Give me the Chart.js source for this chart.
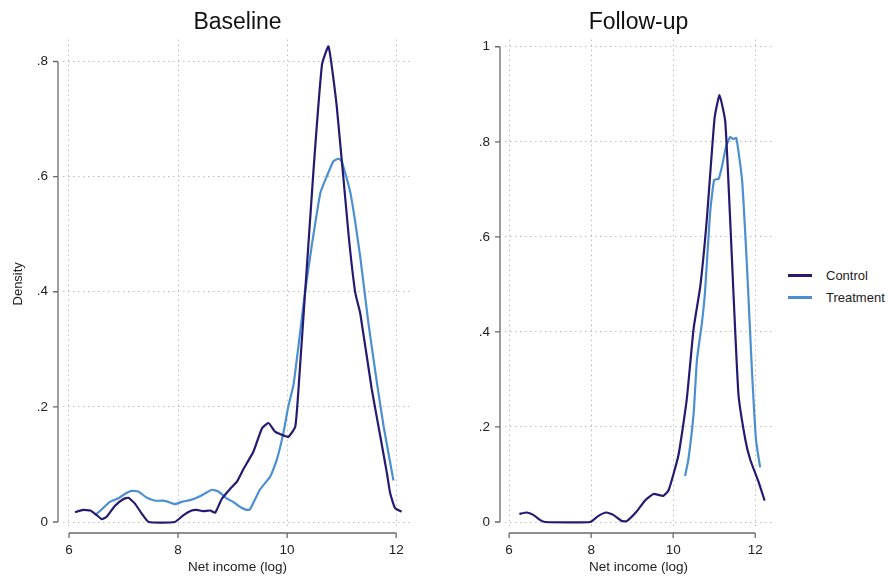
<!DOCTYPE html>
<html>
<head>
<meta charset="utf-8">
<script src="https://cdn.jsdelivr.net/npm/chart.js@4"></script>
<style>
  body { margin: 0; background: #fff; font-family: "Liberation Sans", Arial, sans-serif; }
  #wrap { position: relative; width: 888px; height: 577px; }
  canvas { position: absolute; top: 0; }
  #legend { position: absolute; left: 788px; top: 264px; font-size: 13px; color: #222; }
  .item { height: 22px; display: flex; align-items: center; }
  .swatch { width: 24px; height: 3px; margin-right: 14px; }
</style>
</head>
<body>
<div id="wrap">
  <canvas id="base" width="430" height="577" style="left:0px"></canvas>
  <canvas id="follow" width="340" height="577" style="left:440px"></canvas>
  <div id="legend"></div>
</div>
<script>
// series names and colours
var seriesNames = ['Control', 'Treatment'];
var seriesColors = ['#241a72', '#4b8fd3'];

// baseline, control
var baseCtrlX = [6.11, 6.26, 6.39, 6.51, 6.60, 6.69, 6.84, 7.00, 7.09, 7.21, 7.33, 7.46, 7.94, 8.10, 8.25, 8.34, 8.46, 8.59, 8.68, 8.80, 8.95, 9.08, 9.20, 9.38, 9.54, 9.66, 9.78, 10.02, 10.15, 10.22, 10.48, 10.64, 10.76, 10.91, 11.13, 11.25, 11.34, 11.55, 11.71, 11.83, 11.89, 11.98, 12.10];
var baseCtrlY = [0.017, 0.021, 0.020, 0.012, 0.005, 0.009, 0.028, 0.040, 0.042, 0.032, 0.015, 0.000, 0.000, 0.012, 0.020, 0.021, 0.019, 0.020, 0.016, 0.040, 0.057, 0.070, 0.092, 0.122, 0.163, 0.172, 0.157, 0.148, 0.166, 0.247, 0.606, 0.795, 0.826, 0.722, 0.496, 0.398, 0.363, 0.232, 0.148, 0.085, 0.050, 0.024, 0.018];

// baseline, treatment
var baseTreatX = [6.48, 6.60, 6.75, 6.90, 7.03, 7.15, 7.27, 7.43, 7.58, 7.73, 7.85, 7.94, 8.07, 8.22, 8.34, 8.50, 8.62, 8.74, 8.89, 9.01, 9.14, 9.26, 9.32, 9.50, 9.69, 9.81, 9.93, 10.02, 10.12, 10.33, 10.45, 10.61, 10.73, 10.85, 10.94, 11.00, 11.16, 11.34, 11.49, 11.65, 11.77, 11.95];
var baseTreatY = [0.012, 0.022, 0.035, 0.041, 0.049, 0.054, 0.053, 0.042, 0.037, 0.037, 0.034, 0.031, 0.035, 0.038, 0.042, 0.050, 0.056, 0.053, 0.041, 0.035, 0.026, 0.021, 0.022, 0.056, 0.079, 0.108, 0.154, 0.200, 0.240, 0.400, 0.479, 0.572, 0.601, 0.627, 0.631, 0.627, 0.572, 0.461, 0.346, 0.240, 0.166, 0.072];

// follow-up, control
var followCtrlX = [6.25, 6.43, 6.59, 6.76, 6.88, 7.98, 8.18, 8.37, 8.54, 8.75, 8.87, 9.11, 9.32, 9.52, 9.76, 9.89, 10.13, 10.33, 10.50, 10.66, 10.82, 11.01, 11.13, 11.27, 11.39, 11.59, 11.76, 11.88, 12.08, 12.23];
var followCtrlY = [0.017, 0.020, 0.015, 0.004, 0.000, 0.000, 0.013, 0.020, 0.015, 0.002, 0.002, 0.022, 0.046, 0.059, 0.055, 0.067, 0.141, 0.257, 0.408, 0.495, 0.636, 0.850, 0.898, 0.843, 0.636, 0.271, 0.173, 0.131, 0.085, 0.045];

// follow-up, treatment
var followTreatX = [10.29, 10.37, 10.50, 10.58, 10.70, 10.78, 10.90, 11.00, 11.11, 11.19, 11.29, 11.39, 11.46, 11.54, 11.68, 11.80, 11.92, 12.02, 12.12];
var followTreatY = [0.097, 0.131, 0.229, 0.341, 0.418, 0.488, 0.650, 0.720, 0.722, 0.748, 0.790, 0.810, 0.806, 0.808, 0.720, 0.538, 0.320, 0.173, 0.115];

// tick values and labels
var xTicks = [6, 8, 10, 12];
var baseYTicks = [0, 0.2, 0.4, 0.6, 0.8];
var followYTicks = [0, 0.2, 0.4, 0.6, 0.8, 1];
var yLabel = function (v) { return v == 0 ? '0' : v == 1 ? '1' : String(v).replace(/^0/, ''); };

function pairs(xs, ys) {
    var out = [];
    for (var i = 0; i < xs.length; i++) out.push({ x: xs[i], y: ys[i] });
    return out;
}

// stata-like axis lines, offset from the plot region
var axisLines = {
    id: 'axisLines',
    afterDraw: function (chart) {
        var ctx = chart.ctx, a = chart.chartArea;
        var xs = chart.scales.x, ys = chart.scales.y;
        var yt = chart.options.yTickList;
        ctx.save();
        ctx.strokeStyle = '#6a6a6a';
        ctx.lineWidth = 1.3;
        ctx.beginPath();
        var ax = a.left - 5;
        ctx.moveTo(ax, ys.getPixelForValue(yt[0]));
        ctx.lineTo(ax, ys.getPixelForValue(yt[yt.length - 1]));
        yt.forEach(function (v) {
            var p = ys.getPixelForValue(v);
            ctx.moveTo(ax, p);
            ctx.lineTo(ax - 5, p);
        });
        var ay = a.bottom + 5;
        ctx.moveTo(xs.getPixelForValue(xTicks[0]), ay);
        ctx.lineTo(xs.getPixelForValue(xTicks[xTicks.length - 1]), ay);
        xTicks.forEach(function (v) {
            var p = xs.getPixelForValue(v);
            ctx.moveTo(p, ay);
            ctx.lineTo(p, ay + 5);
        });
        ctx.stroke();
        ctx.restore();
    }
};

function makeChart(id, title, ctrl, treat, xMin, xMax, yMin, yMax, yTicks, showYTitle, yWidth, padRight) {
    return new Chart(document.getElementById(id), {
        type: 'line',
        data: {
            datasets: [
                { label: seriesNames[0], data: ctrl, borderColor: seriesColors[0], backgroundColor: seriesColors[0] },
                { label: seriesNames[1], data: treat, borderColor: seriesColors[1], backgroundColor: seriesColors[1] }
            ]
        },
        options: {
            responsive: false,
            animation: false,
            yTickList: yTicks,
            layout: { padding: { left: 0, right: padRight, top: 0, bottom: 0 } },
            elements: {
                point: { radius: 0 },
                line: { borderWidth: 2.2, tension: 0.15 }
            },
            plugins: {
                legend: { display: false },
                tooltip: { enabled: false },
                title: {
                    display: true,
                    text: title,
                    fullSize: false,
                    color: '#111',
                    font: { family: 'Liberation Sans', size: 23, weight: 'normal' },
                    padding: { top: 9, bottom: 3 }
                }
            },
            scales: {
                x: {
                    type: 'linear',
                    min: xMin,
                    max: xMax,
                    afterBuildTicks: function (s) { s.ticks = xTicks.map(function (v) { return { value: v }; }); },
                    afterFit: function (s) { s.height = 49; },
                    grid: { color: '#bdbdbd', lineWidth: 1, drawTicks: false },
                    border: { display: false, dash: [1.5, 3.5] },
                    ticks: { padding: 14, color: '#222', font: { family: 'Liberation Sans', size: 13.5 }, maxRotation: 0 },
                    title: {
                        display: true,
                        text: 'Net income (log)',
                        color: '#222',
                        font: { family: 'Liberation Sans', size: 13.5 },
                        padding: { top: 0, bottom: 2 }
                    }
                },
                y: {
                    type: 'linear',
                    min: yMin,
                    max: yMax,
                    afterBuildTicks: function (s) { s.ticks = yTicks.map(function (v) { return { value: v }; }); },
                    afterFit: function (s) { s.width = yWidth; },
                    grid: { color: '#bdbdbd', lineWidth: 1, drawTicks: false },
                    border: { display: false, dash: [1.5, 3.5] },
                    ticks: {
                        padding: 15,
                        color: '#222',
                        font: { family: 'Liberation Sans', size: 13.5 },
                        callback: function (v) { return yLabel(v); }
                    },
                    title: {
                        display: showYTitle,
                        text: 'Density',
                        color: '#222',
                        font: { family: 'Liberation Sans', size: 13 },
                        padding: { top: 11, bottom: 4 }
                    }
                }
            }
        },
        plugins: [axisLines]
    });
}

var baseChart = makeChart('base', 'Baseline', pairs(baseCtrlX, baseCtrlY), pairs(baseTreatX, baseTreatY),
    5.89, 12.29, -0.0104, 0.838, baseYTicks, true, 63, 18);
var followChart = makeChart('follow', 'Follow-up', pairs(followCtrlX, followCtrlY), pairs(followTreatX, followTreatY),
    5.9, 12.41, -0.0126, 1.015, followYTicks, false, 65, 8);

// legend built from the chart's datasets
var legend = document.getElementById('legend');
followChart.data.datasets.forEach(function (ds) {
    var row = document.createElement('div');
    row.className = 'item';
    row.innerHTML = '<span class="swatch" style="background:' + ds.borderColor + '"></span>' + ds.label;
    legend.appendChild(row);
});
</script>
</body>
</html>
